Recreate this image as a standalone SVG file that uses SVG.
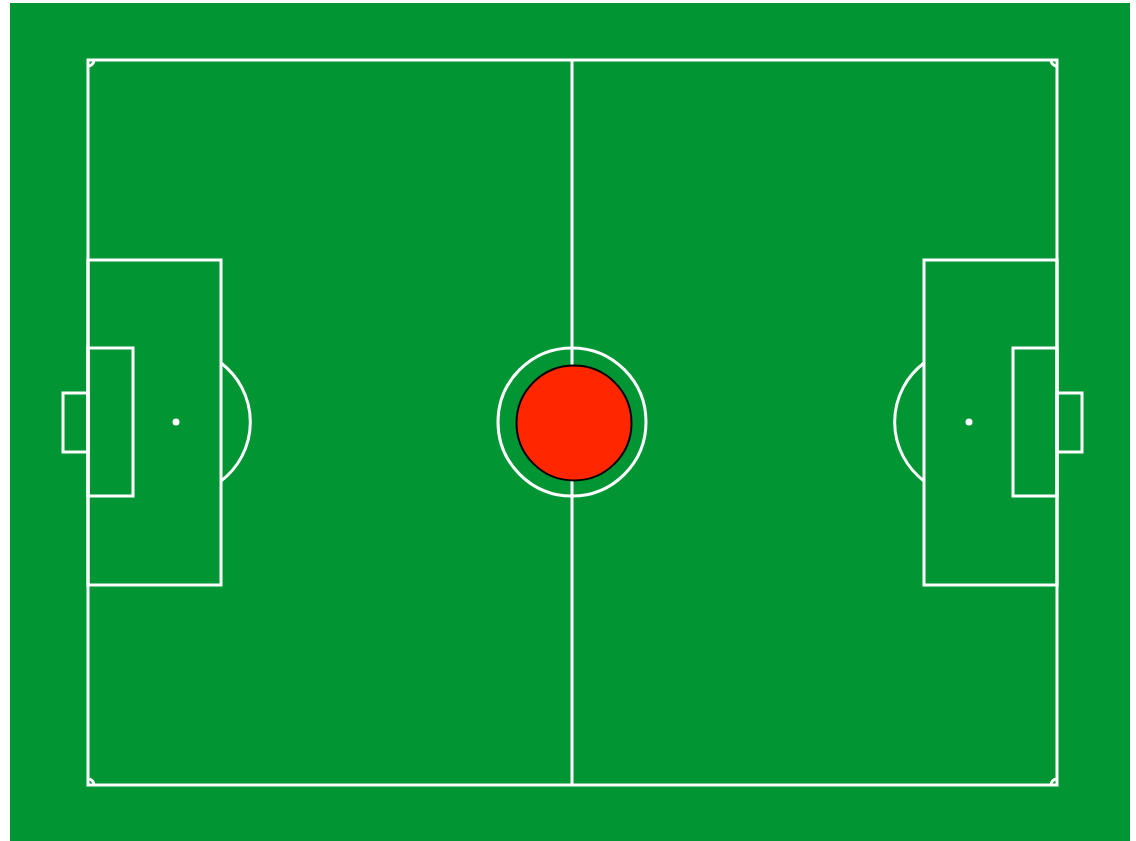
<svg xmlns="http://www.w3.org/2000/svg" width="1136" height="841" viewBox="0 0 1136 841">
<style>
.l{fill:none;stroke:#ffffff;stroke-width:3}
</style>
<rect x="0" y="0" width="1136" height="841" fill="#ffffff"/>
<rect x="10" y="3" width="1120" height="838" fill="#029533"/>
<g id="pitch">
<rect class="l" x="88" y="60" width="969" height="725"/>
<line class="l" x1="572" y1="60" x2="572" y2="785"/>
<circle class="l" cx="572" cy="422" r="74"/>
<path class="l" d="M88,66 A6,6 0 0 0 94,60"/>
<path class="l" d="M1051,60 A6,6 0 0 0 1057,66"/>
<path class="l" d="M88,779 A6,6 0 0 1 94,785"/>
<path class="l" d="M1051,785 A6,6 0 0 1 1057,779"/>
</g>
<g id="left-half">
<rect class="l" x="88" y="260" width="133" height="325"/>
<rect class="l" x="88" y="348" width="45" height="148"/>
<rect class="l" x="63" y="393" width="25" height="59"/>
<circle cx="176" cy="422" r="3.5" fill="#ffffff"/>
<path class="l" d="M221,363 A74,74 0 0 1 221,481"/>
</g>
<g id="right-half">
<rect class="l" x="924" y="260" width="133" height="325"/>
<rect class="l" x="1013" y="348" width="44" height="148"/>
<rect class="l" x="1057" y="393" width="25" height="59"/>
<circle cx="969" cy="422" r="3.5" fill="#ffffff"/>
<path class="l" d="M924,363 A74,74 0 0 0 924,481"/>
</g>
<g id="ball">
<circle cx="574" cy="423" r="57.5" fill="#ff2600" stroke="#000000" stroke-width="2"/>
</g>
</svg>
